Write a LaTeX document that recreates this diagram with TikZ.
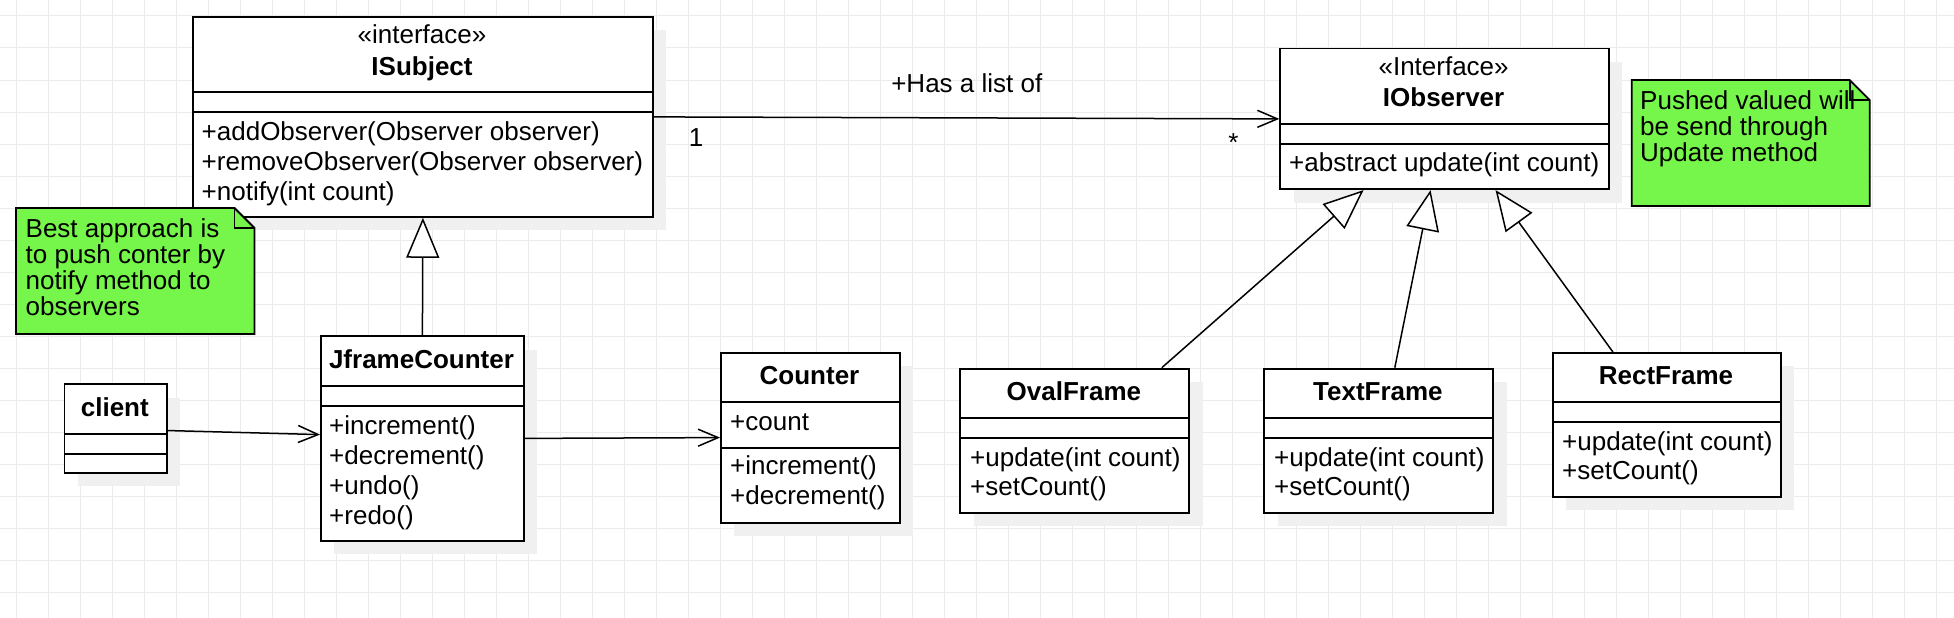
\documentclass[tikz,border=0pt]{standalone}
\usepackage{fontspec}
\setmainfont{Liberation Sans}
\usetikzlibrary{arrows.meta,shadows}
\definecolor{notegreen}{HTML}{76F54A}
\definecolor{gridgray}{HTML}{EBEBEB}
\definecolor{shadowgray}{HTML}{F0F0F0}
\newcommand\classsep[2]{\draw[sepline] (#1.west |- 0,#2) -- (#1.east |- 0,#2);}
\begin{document}
\begin{tikzpicture}[x=1pt,y=-1pt,
  txt/.style={inner sep=0pt, font=\fontsize{26}{30}\selectfont},
  titletext/.style={txt, font=\fontsize{26}{30}\selectfont\bfseries, anchor=base},
  stereo/.style={txt, anchor=base},
  member/.style={txt, anchor=base west},
  notetext/.style={txt, anchor=base west},
  lbl/.style={txt, anchor=base},
  classbox/.style={draw, line width=1.8pt, fill=white, anchor=north west, inner sep=0pt,
    drop shadow={shadow xshift=13.5pt, shadow yshift=-13.5pt, fill=shadowgray, opacity=1}},
  sepline/.style={line width=1.8pt},
  notebox/.style={draw, line width=1.8pt, fill=notegreen, line join=miter},
  gridline/.style={draw=gridgray, line width=1pt},
  assoc/.style={line width=1.5pt, -{Straight Barb[length=20pt,width=17pt]}},
  inherit/.style={line width=1.5pt, -{Triangle[length=40pt,width=33pt,fill=white]}},
]
\useasboundingbox (0,0) rectangle (1954,618);
\fill[white] (0,0) rectangle (1954,618);
\foreach \gx in {16,48,...,1936} \draw[gridline] (\gx,0) -- (\gx,618);
\foreach \gy in {16,48,...,592} \draw[gridline] (0,\gy) -- (1954,\gy);

% ISubject
\node[classbox, minimum width=460pt, minimum height=200pt] (isubject) at (192,16) {};
\classsep{isubject}{91.7}
\classsep{isubject}{111.7}
\node[stereo] (isubjectst) at (422,44) {«interface»};
\node[titletext] (isubjectname) at (422,75) {ISubject};
\node[member] (isubjectm1) at (201.5,140.7) {+addObserver(Observer observer)};
\node[member] (isubjectm2) at (201.5,170.7) {+removeObserver(Observer observer)};
\node[member] (isubjectm3) at (201.5,200.7) {+notify(int count)};

% IObserver
\node[classbox, minimum width=328.7pt, minimum height=140.6pt] (iobserver) at (1279.3,47.7) {};
\classsep{iobserver}{124}
\classsep{iobserver}{144}
\node[stereo] (iobserverst) at (1443.6,76) {«Interface»};
\node[titletext] (iobservername) at (1443.6,106) {IObserver};
\node[member] (iobserverm1) at (1289,171.7) {+abstract update(int count)};

% client
\node[classbox, minimum width=102.4pt, minimum height=88.7pt] (client) at (63.6,383.3) {};
\classsep{client}{433.7}
\classsep{client}{453.7}
\node[titletext] (clientname) at (114.8,416) {client};

% JframeCounter
\node[classbox, minimum width=203pt, minimum height=204.4pt] (jframe) at (320,335.3) {};
\classsep{jframe}{385.7}
\classsep{jframe}{406}
\node[titletext] (jframename) at (421.5,368.3) {JframeCounter};
\node[member] (jframem1) at (329,434) {+increment()};
\node[member] (jframem2) at (329,464) {+decrement()};
\node[member] (jframem3) at (329,494) {+undo()};
\node[member] (jframem4) at (329,524) {+redo()};

% Counter
\node[classbox, minimum width=179pt, minimum height=170pt] (counter) at (720,351.7) {};
\classsep{counter}{401.7}
\classsep{counter}{447.7}
\node[titletext] (countername) at (809.5,384) {Counter};
\node[member] (countera1) at (730,430) {+count};
\node[member] (counterm1) at (730,474.3) {+increment()};
\node[member] (counterm2) at (730,504.3) {+decrement()};

% OvalFrame
\node[classbox, minimum width=229pt, minimum height=144.3pt] (oval) at (959.4,367.7) {};
\classsep{oval}{417.7}
\classsep{oval}{437.7}
\node[titletext] (ovalname) at (1073.9,400) {OvalFrame};
\node[member] (ovalm1) at (970,466) {+update(int count)};
\node[member] (ovalm2) at (970,495.7) {+setCount()};

% TextFrame
\node[classbox, minimum width=229pt, minimum height=144.3pt] (textframe) at (1263.4,367.7) {};
\classsep{textframe}{417.7}
\classsep{textframe}{437.7}
\node[titletext] (textframename) at (1377.9,400) {TextFrame};
\node[member] (textframem1) at (1274,466) {+update(int count)};
\node[member] (textframem2) at (1274,495.7) {+setCount()};

% RectFrame
\node[classbox, minimum width=228pt, minimum height=143.7pt] (rectframe) at (1552,352) {};
\classsep{rectframe}{401.7}
\classsep{rectframe}{421.7}
\node[titletext] (rectframename) at (1666,384) {RectFrame};
\node[member] (rectframem1) at (1562,450) {+update(int count)};
\node[member] (rectframem2) at (1562,479.7) {+setCount()};

% note 1
\draw[notebox] (16,208) -- (234.5,208) -- (254.5,228) -- (254.5,334) -- (16,334) -- cycle;
\draw[sepline] (234.5,208) -- (234.5,228) -- (254.5,228);
\node[notetext] (note1a) at (25.5,237.5) {Best approach is};
\node[notetext] (note1b) at (25.5,263.5) {to push conter by};
\node[notetext] (note1c) at (25.5,289.5) {notify method to};
\node[notetext] (note1d) at (25.5,315.5) {observers};

% note 2
\draw[notebox] (1631.7,80) -- (1849.7,80) -- (1869.7,100) -- (1869.7,206) -- (1631.7,206) -- cycle;
\draw[sepline] (1849.7,80) -- (1849.7,100) -- (1869.7,100);
\node[notetext] (note2a) at (1640,109.5) {Pushed valued will};
\node[notetext] (note2b) at (1640,135.5) {be send through};
\node[notetext] (note2c) at (1640,161.5) {Update method};

% connectors
\draw[assoc] (isubject.east) -- (iobserver.west);
\node[lbl] (haslist) at (966.8,92.3) {+Has a list of};
\node[lbl] (multone) at (696,146) {1};
\node[lbl] (multmany) at (1233.4,151.7) {*};
\draw[assoc] ([yshift=-2pt]client.east) -- ([yshift=3.8pt]jframe.west);
\draw[assoc] (jframe.east) -- (counter.west);
\draw[inherit] (jframe.north) -- (isubject.south);
\draw[inherit] ([xshift=87pt]oval.north) -- ([xshift=-81pt]iobserver.south);
\draw[inherit] ([xshift=16pt]textframe.north) -- ([xshift=-14pt]iobserver.south);
\draw[inherit] ([xshift=-54pt]rectframe.north) -- ([xshift=51pt]iobserver.south);
\end{tikzpicture}
\end{document}
